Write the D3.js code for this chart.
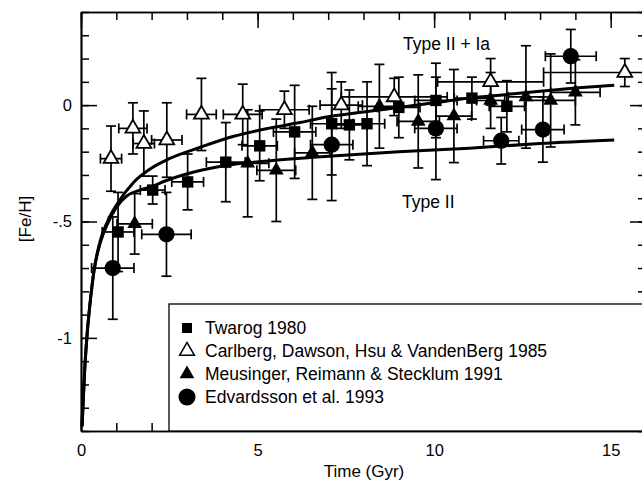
<!DOCTYPE html>
<html>
<head>
<meta charset="utf-8">
<script src="https://cdn.jsdelivr.net/npm/d3@7"></script>
<style>
  body { margin: 0; background: #fff; }
  svg { display: block; font-family: "Liberation Sans", Arial, sans-serif; }
</style>
</head>
<body>
<div id="root"><svg width="642" height="484"></svg></div>
<script>
// [t (Gyr), [Fe/H], x error, y error]
const twarog = [
  [1.05, -0.545, 0.45, 0.17], [2.03, -0.365, 0.35, 0.06], [3.02, -0.33, 0.45, 0.12],
  [4.1, -0.245, 0.55, 0.17], [5.06, -0.175, 0.5, 0.15], [6.05, -0.115, 0.6, 0.2],
  [7.1, -0.08, 0.6, 0.22], [7.6, -0.085, 0.5, 0.15], [8.1, -0.08, 0.5, 0.18],
  [9.0, -0.01, 0.6, 0.13], [10.05, 0.02, 0.6, 0.16], [11.07, 0.03, 0.5, 0.09],
  [12.06, -0.005, 0.5, 0.11]
];
const carlberg = [
  [0.85, -0.23, 0.3, 0.14], [1.47, -0.10, 0.4, 0.11], [1.78, -0.165, 0.3, 0.14],
  [2.43, -0.15, 0.43, 0.16], [3.41, -0.04, 0.42, 0.155], [4.58, -0.04, 0.55, 0.13],
  [5.76, -0.02, 0.7, 0.08], [7.37, 0.0, 0.6, 0.1], [8.87, 0.035, 1.5, 0.08],
  [11.6, 0.10, 1.5, 0.1], [15.4, 0.14, 2.3, 0.06]
];
const meusinger = [
  [1.52, -0.51, 0.5, 0.13], [4.72, -0.25, 0.6, 0.23], [5.53, -0.28, 0.55, 0.22],
  [6.55, -0.205, 0.5, 0.2], [8.45, -0.005, 0.6, 0.18], [9.55, -0.07, 0.6, 0.2],
  [10.56, -0.047, 0.5, 0.2], [11.6, 0.02, 0.4, 0.12], [12.6, 0.035, 0.5, 0.22],
  [13.3, 0.02, 0.7, 0.2], [14.0, 0.055, 0.7, 0.14]
];
const edvardsson = [
  [0.9, -0.70, 0.6, 0.22], [2.42, -0.555, 0.7, 0.18], [7.1, -0.17, 0.6, 0.24],
  [10.05, -0.10, 0.6, 0.22], [11.9, -0.153, 0.5, 0.1], [13.08, -0.105, 0.6, 0.14],
  [13.87, 0.21, 0.72, 0.115]
];
// model curves [t, [Fe/H]]
const typeIIIa = [
  [0.03, -1.38], [0.06, -1.28], [0.1, -1.15], [0.17, -0.99], [0.25, -0.86], [0.37, -0.71],
  [0.55, -0.58], [0.75, -0.5], [1.0, -0.43], [1.5, -0.33], [2.0, -0.27], [2.5, -0.23],
  [3.4, -0.18], [4.3, -0.135], [5.3, -0.1], [6.2, -0.075], [7.0, -0.05], [8.0, -0.03],
  [9.0, -0.01], [10.0, 0.01], [11.0, 0.03], [12.0, 0.045], [13.0, 0.06], [14.0, 0.073], [15.1, 0.085]
];
const typeII = [
  [0.03, -1.38], [0.06, -1.28], [0.1, -1.15], [0.17, -0.99], [0.25, -0.86], [0.37, -0.71],
  [0.55, -0.59], [0.75, -0.51], [1.0, -0.44], [1.3, -0.39], [1.67, -0.365], [2.0, -0.35],
  [2.4, -0.325], [3.4, -0.28], [4.3, -0.255], [5.3, -0.24], [7.0, -0.22], [9.0, -0.2],
  [11.0, -0.185], [13.0, -0.165], [15.1, -0.15]
];
const legendLabels = [
  'Twarog 1980',
  'Carlberg, Dawson, Hsu & VandenBerg 1985',
  'Meusinger, Reimann & Stecklum 1991',
  'Edvardsson et al. 1993'
];
const xMajor = [0, 5, 10, 15];
const yMajor = [-1, -0.5, 0];
const yTickText = { '-1': '-1', '-0.5': '-.5', '0': '0' };

const svg = d3.select('#root svg');
const padLeft = 81, padRight = 646, padTop = 12, padBottom = 431;

const x = d3.scaleLinear().domain([0, 16]).range([padLeft, padRight]);
const y = d3.scaleLinear().domain([-1.4, 0.4]).range([padBottom, padTop]);

const xMinor = d3.range(0, 17, 1);
const yMinor = d3.range(-14, 5, 1).map(d => d / 10);

function styleAxis(g) {
  g.select('.domain').attr('stroke', '#000').attr('stroke-width', 1.7);
  g.selectAll('.tick line').attr('stroke', '#000').attr('stroke-width', 1.5);
  g.selectAll('.tick text').attr('fill', '#000').attr('font-size', 16.5)
    .attr('font-family', '"Liberation Sans", Arial, sans-serif');
}

// bottom axis
svg.append('g').attr('transform', `translate(0 ${padBottom})`)
  .call(d3.axisBottom(x).tickValues(xMinor).tickSizeInner(-8).tickSizeOuter(0).tickFormat(''))
  .call(styleAxis);
svg.append('g').attr('transform', `translate(0 ${padBottom})`)
  .call(d3.axisBottom(x).tickValues(xMajor).tickSizeInner(-16).tickSizeOuter(0).tickPadding(13)
    .tickFormat(d3.format('d')))
  .call(styleAxis);
// top axis
svg.append('g').attr('transform', `translate(0 ${padTop})`)
  .call(d3.axisTop(x).tickValues(xMinor).tickSizeInner(-8).tickSizeOuter(0).tickFormat(''))
  .call(styleAxis);
svg.append('g').attr('transform', `translate(0 ${padTop})`)
  .call(d3.axisTop(x).tickValues(xMajor).tickSizeInner(-16).tickSizeOuter(0).tickFormat(''))
  .call(styleAxis);
// left axis
svg.append('g').attr('transform', `translate(${padLeft} 0)`)
  .call(d3.axisLeft(y).tickValues(yMinor).tickSizeInner(-8).tickSizeOuter(0).tickFormat(''))
  .call(styleAxis);
svg.append('g').attr('transform', `translate(${padLeft} 0)`)
  .call(d3.axisLeft(y).tickValues(yMajor).tickSizeInner(-16).tickSizeOuter(0).tickPadding(9)
    .tickFormat(d => yTickText[String(d)]))
  .call(styleAxis);
// right axis
svg.append('g').attr('transform', `translate(${padRight} 0)`)
  .call(d3.axisRight(y).tickValues(yMinor).tickSizeInner(-8).tickSizeOuter(0).tickFormat(''))
  .call(styleAxis);
svg.append('g').attr('transform', `translate(${padRight} 0)`)
  .call(d3.axisRight(y).tickValues(yMajor).tickSizeInner(-16).tickSizeOuter(0).tickFormat(''))
  .call(styleAxis);

// legend box
svg.append('rect')
  .attr('x', 169).attr('y', 304).attr('width', 500).attr('height', padBottom - 304)
  .attr('fill', '#fff').attr('stroke', '#000').attr('stroke-width', 1.3);

// error bars
const cap = 5;
function errorBars(data) {
  const g = svg.append('g').attr('stroke', '#000').attr('stroke-width', 1.7).attr('fill', 'none');
  data.forEach(([t, f, xe, ye]) => {
    const cx = x(t), cy = y(f);
    const x0 = x(t - xe), x1 = x(t + xe), y0 = y(f - ye), y1 = y(f + ye);
    g.append('line').attr('x1', x0).attr('x2', x1).attr('y1', cy).attr('y2', cy);
    g.append('line').attr('x1', x0).attr('x2', x0).attr('y1', cy - cap).attr('y2', cy + cap);
    g.append('line').attr('x1', x1).attr('x2', x1).attr('y1', cy - cap).attr('y2', cy + cap);
    g.append('line').attr('x1', cx).attr('x2', cx).attr('y1', y0).attr('y2', y1);
    g.append('line').attr('x1', cx - cap).attr('x2', cx + cap).attr('y1', y0).attr('y2', y0);
    g.append('line').attr('x1', cx - cap).attr('x2', cx + cap).attr('y1', y1).attr('y2', y1);
  });
}
[carlberg, twarog, meusinger, edvardsson].forEach(errorBars);

// model curves
const line = d3.line().x(d => x(d[0])).y(d => y(d[1])).curve(d3.curveMonotoneX);
[typeIIIa, typeII].forEach(c => {
  svg.append('path').datum(c).attr('d', line)
    .attr('fill', 'none').attr('stroke', '#000').attr('stroke-width', 3);
});

// markers
const sym = {
  square: d3.symbol().type(d3.symbolSquare).size(130),
  triangle: d3.symbol().type(d3.symbolTriangle).size(95),
  circle: d3.symbol().type(d3.symbolCircle).size(210)
};
function markers(data, s, open) {
  svg.append('g').selectAll('path').data(data).enter().append('path')
    .attr('transform', d => `translate(${x(d[0])} ${y(d[1])})`)
    .attr('d', s)
    .attr('fill', open ? '#fff' : '#000')
    .attr('stroke', '#000').attr('stroke-width', open ? 1.8 : 0);
}
markers(carlberg, sym.triangle, true);
markers(twarog, sym.square, false);
markers(meusinger, sym.triangle, false);
markers(edvardsson, sym.circle, false);

// curve labels
svg.append('text').attr('x', 403).attr('y', 50).attr('font-size', 17.5).text('Type II + Ia');
svg.append('text').attr('x', 402).attr('y', 208).attr('font-size', 17.5).text('Type II');

// legend entries
const legendSyms = [
  [d3.symbol().type(d3.symbolSquare).size(100), false],
  [d3.symbol().type(d3.symbolTriangle).size(95), true],
  [d3.symbol().type(d3.symbolTriangle).size(95), false],
  [d3.symbol().type(d3.symbolCircle).size(230), false]
];
const legendY = [328, 351, 374, 397];
legendLabels.forEach((label, i) => {
  const [s, open] = legendSyms[i];
  svg.append('path').attr('transform', `translate(187 ${legendY[i]})`).attr('d', s)
    .attr('fill', open ? '#fff' : '#000').attr('stroke', '#000').attr('stroke-width', open ? 1.5 : 0);
  svg.append('text').attr('x', 205).attr('y', legendY[i] + 6).attr('font-size', 17.5).text(label);
});

// axis titles
svg.append('text').attr('x', 364).attr('y', 477).attr('text-anchor', 'middle')
  .attr('font-size', 17).text('Time (Gyr)');
svg.append('text').attr('transform', 'translate(31 219) rotate(-90)').attr('text-anchor', 'middle')
  .attr('font-size', 17).text('[Fe/H]');
</script>
</body>
</html>
